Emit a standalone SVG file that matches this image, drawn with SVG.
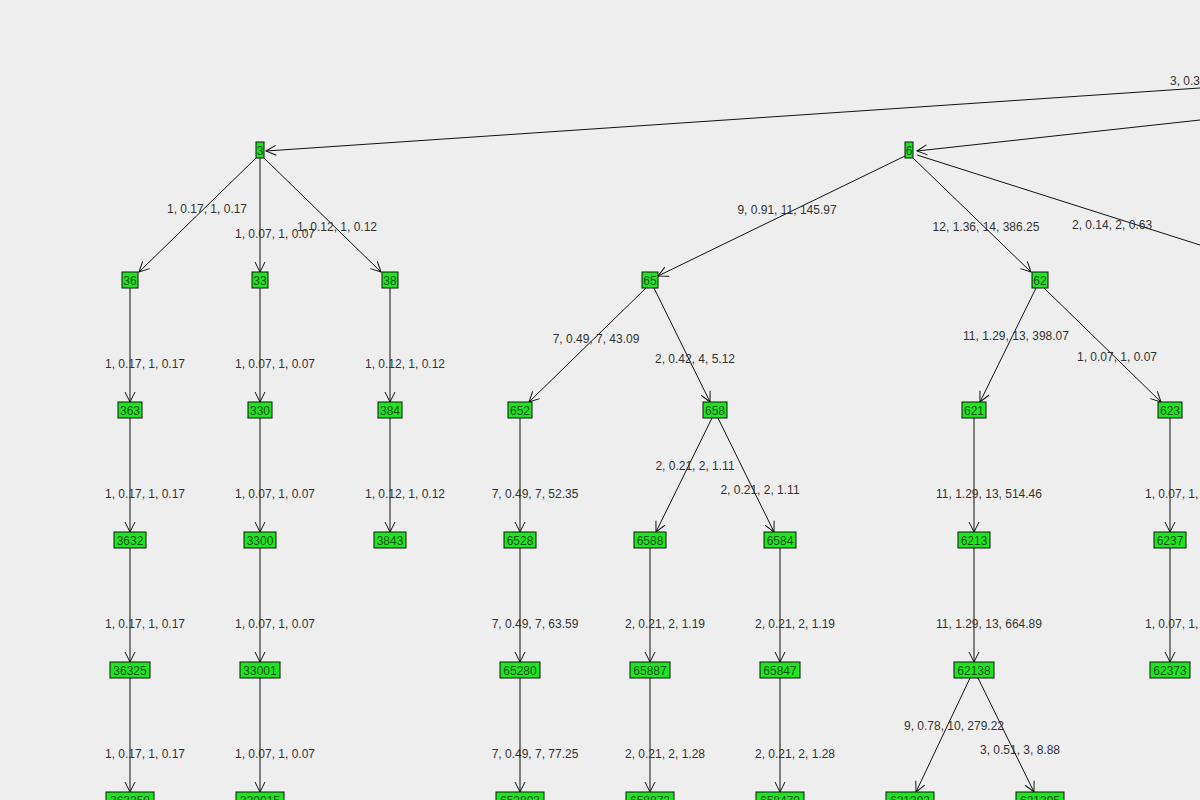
<svg xmlns="http://www.w3.org/2000/svg" width="1200" height="800" viewBox="0 0 1200 800">
<style>
.bg{fill:#eeeeee}
.n rect{fill:#1ee61e;stroke:#111;stroke-width:1}
.n text{font-family:"Liberation Sans",Arial,sans-serif;font-size:12px;fill:#1d4d1d;text-anchor:middle}
.e line{stroke:#111;stroke-width:1}
.a{marker-end:url(#arr)}
.l{font-family:"Liberation Sans",Arial,sans-serif;font-size:12px;fill:#333;text-anchor:middle}
</style>
<defs>
<marker id="arr" markerWidth="14" markerHeight="14" refX="11" refY="6" orient="auto" markerUnits="userSpaceOnUse">
<path d="M1,1 L11,6 L1,11" fill="none" stroke="#111" stroke-width="1"/>
</marker>
</defs>
<rect class="bg" x="0" y="0" width="1200" height="800"/>
<g id="connectors" class="e">
<line class="a" x1="1200" y1="88" x2="266" y2="151"/>
<line class="a" x1="1200" y1="120" x2="917" y2="151"/>
<line x1="917" y1="155" x2="1200" y2="245"/>
<line class="a" x1="256" y1="158" x2="139" y2="272"/>
<line class="a" x1="260" y1="158" x2="260" y2="272"/>
<line class="a" x1="264" y1="158" x2="381" y2="272"/>
<line class="a" x1="130" y1="288" x2="130" y2="402"/>
<line class="a" x1="130" y1="418" x2="130" y2="532"/>
<line class="a" x1="130" y1="548" x2="130" y2="662"/>
<line class="a" x1="130" y1="678" x2="130" y2="792"/>
<line class="a" x1="260" y1="288" x2="260" y2="402"/>
<line class="a" x1="260" y1="418" x2="260" y2="532"/>
<line class="a" x1="260" y1="548" x2="260" y2="662"/>
<line class="a" x1="260" y1="678" x2="260" y2="792"/>
<line class="a" x1="390" y1="288" x2="390" y2="402"/>
<line class="a" x1="390" y1="418" x2="390" y2="532"/>
<line class="a" x1="905" y1="156" x2="658" y2="276"/>
<line class="a" x1="913" y1="158" x2="1031" y2="272"/>
<line class="a" x1="646" y1="288" x2="529" y2="402"/>
<line class="a" x1="654" y1="288" x2="710" y2="402"/>
<line class="a" x1="520" y1="418" x2="520" y2="532"/>
<line class="a" x1="520" y1="548" x2="520" y2="662"/>
<line class="a" x1="520" y1="678" x2="520" y2="792"/>
<line class="a" x1="712" y1="418" x2="656" y2="532"/>
<line class="a" x1="718" y1="418" x2="774" y2="532"/>
<line class="a" x1="650" y1="548" x2="650" y2="662"/>
<line class="a" x1="650" y1="678" x2="650" y2="792"/>
<line class="a" x1="780" y1="548" x2="780" y2="662"/>
<line class="a" x1="780" y1="678" x2="780" y2="792"/>
<line class="a" x1="1036" y1="288" x2="980" y2="402"/>
<line class="a" x1="1044" y1="288" x2="1161" y2="402"/>
<line class="a" x1="974" y1="418" x2="974" y2="532"/>
<line class="a" x1="974" y1="548" x2="974" y2="662"/>
<line class="a" x1="970" y1="678" x2="916" y2="792"/>
<line class="a" x1="978" y1="678" x2="1034" y2="792"/>
<line class="a" x1="1170" y1="418" x2="1170" y2="532"/>
<line class="a" x1="1170" y1="548" x2="1170" y2="662"/>
</g>
<g id="edge-labels">
<text class="l" x="1170" y="85" text-anchor="start" style="text-anchor:start">3, 0.3</text>
<text class="l" x="1072" y="229" style="text-anchor:start">2, 0.14, 2, 0.63</text>
<text class="l" x="207" y="213">1, 0.17, 1, 0.17</text>
<text class="l" x="275" y="238">1, 0.07, 1, 0.07</text>
<text class="l" x="337" y="231">1, 0.12, 1, 0.12</text>
<text class="l" x="145" y="368">1, 0.17, 1, 0.17</text>
<text class="l" x="145" y="498">1, 0.17, 1, 0.17</text>
<text class="l" x="145" y="628">1, 0.17, 1, 0.17</text>
<text class="l" x="145" y="758">1, 0.17, 1, 0.17</text>
<text class="l" x="275" y="368">1, 0.07, 1, 0.07</text>
<text class="l" x="275" y="498">1, 0.07, 1, 0.07</text>
<text class="l" x="275" y="628">1, 0.07, 1, 0.07</text>
<text class="l" x="275" y="758">1, 0.07, 1, 0.07</text>
<text class="l" x="405" y="368">1, 0.12, 1, 0.12</text>
<text class="l" x="405" y="498">1, 0.12, 1, 0.12</text>
<text class="l" x="787" y="214">9, 0.91, 11, 145.97</text>
<text class="l" x="986" y="231">12, 1.36, 14, 386.25</text>
<text class="l" x="596" y="343">7, 0.49, 7, 43.09</text>
<text class="l" x="695" y="363">2, 0.42, 4, 5.12</text>
<text class="l" x="535" y="498">7, 0.49, 7, 52.35</text>
<text class="l" x="535" y="628">7, 0.49, 7, 63.59</text>
<text class="l" x="535" y="758">7, 0.49, 7, 77.25</text>
<text class="l" x="695" y="470">2, 0.21, 2, 1.11</text>
<text class="l" x="760" y="494">2, 0.21, 2, 1.11</text>
<text class="l" x="665" y="628">2, 0.21, 2, 1.19</text>
<text class="l" x="665" y="758">2, 0.21, 2, 1.28</text>
<text class="l" x="795" y="628">2, 0.21, 2, 1.19</text>
<text class="l" x="795" y="758">2, 0.21, 2, 1.28</text>
<text class="l" x="1016" y="340">11, 1.29, 13, 398.07</text>
<text class="l" x="1117" y="361">1, 0.07, 1, 0.07</text>
<text class="l" x="989" y="498">11, 1.29, 13, 514.46</text>
<text class="l" x="989" y="628">11, 1.29, 13, 664.89</text>
<text class="l" x="954" y="730">9, 0.78, 10, 279.22</text>
<text class="l" x="1020" y="754">3, 0.51, 3, 8.88</text>
<text class="l" x="1145" y="498" style="text-anchor:start">1, 0.07, 1, 0.07</text>
<text class="l" x="1145" y="628" style="text-anchor:start">1, 0.07, 1, 0.07</text>
</g>
<g id="n3" class="n"><rect x="256" y="142" width="8" height="16"/><text x="260" y="155">3</text></g>
<g id="n6" class="n"><rect x="905" y="142" width="8" height="16"/><text x="909" y="155">6</text></g>
<g id="n36" class="n"><rect x="122" y="272" width="16" height="16"/><text x="130" y="285">36</text></g>
<g id="n33" class="n"><rect x="252" y="272" width="16" height="16"/><text x="260" y="285">33</text></g>
<g id="n38" class="n"><rect x="382" y="272" width="16" height="16"/><text x="390" y="285">38</text></g>
<g id="n65" class="n"><rect x="642" y="272" width="16" height="16"/><text x="650" y="285">65</text></g>
<g id="n62" class="n"><rect x="1032" y="272" width="16" height="16"/><text x="1040" y="285">62</text></g>
<g id="n363" class="n"><rect x="118" y="402" width="24" height="16"/><text x="130" y="415">363</text></g>
<g id="n330" class="n"><rect x="248" y="402" width="24" height="16"/><text x="260" y="415">330</text></g>
<g id="n384" class="n"><rect x="378" y="402" width="24" height="16"/><text x="390" y="415">384</text></g>
<g id="n652" class="n"><rect x="508" y="402" width="24" height="16"/><text x="520" y="415">652</text></g>
<g id="n658" class="n"><rect x="703" y="402" width="24" height="16"/><text x="715" y="415">658</text></g>
<g id="n621" class="n"><rect x="962" y="402" width="24" height="16"/><text x="974" y="415">621</text></g>
<g id="n623" class="n"><rect x="1158" y="402" width="24" height="16"/><text x="1170" y="415">623</text></g>
<g id="n3632" class="n"><rect x="114" y="532" width="32" height="16"/><text x="130" y="545">3632</text></g>
<g id="n3300" class="n"><rect x="244" y="532" width="32" height="16"/><text x="260" y="545">3300</text></g>
<g id="n3843" class="n"><rect x="374" y="532" width="32" height="16"/><text x="390" y="545">3843</text></g>
<g id="n6528" class="n"><rect x="504" y="532" width="32" height="16"/><text x="520" y="545">6528</text></g>
<g id="n6588" class="n"><rect x="634" y="532" width="32" height="16"/><text x="650" y="545">6588</text></g>
<g id="n6584" class="n"><rect x="764" y="532" width="32" height="16"/><text x="780" y="545">6584</text></g>
<g id="n6213" class="n"><rect x="958" y="532" width="32" height="16"/><text x="974" y="545">6213</text></g>
<g id="n6237" class="n"><rect x="1154" y="532" width="32" height="16"/><text x="1170" y="545">6237</text></g>
<g id="n36325" class="n"><rect x="110" y="662" width="40" height="16"/><text x="130" y="675">36325</text></g>
<g id="n33001" class="n"><rect x="240" y="662" width="40" height="16"/><text x="260" y="675">33001</text></g>
<g id="n65280" class="n"><rect x="500" y="662" width="40" height="16"/><text x="520" y="675">65280</text></g>
<g id="n65887" class="n"><rect x="630" y="662" width="40" height="16"/><text x="650" y="675">65887</text></g>
<g id="n65847" class="n"><rect x="760" y="662" width="40" height="16"/><text x="780" y="675">65847</text></g>
<g id="n62138" class="n"><rect x="954" y="662" width="40" height="16"/><text x="974" y="675">62138</text></g>
<g id="n62373" class="n"><rect x="1150" y="662" width="40" height="16"/><text x="1170" y="675">62373</text></g>
<g id="n363250" class="n"><rect x="106" y="792" width="48" height="16"/><text x="130" y="805">363250</text></g>
<g id="n330015" class="n"><rect x="236" y="792" width="48" height="16"/><text x="260" y="805">330015</text></g>
<g id="n652803" class="n"><rect x="496" y="792" width="48" height="16"/><text x="520" y="805">652803</text></g>
<g id="n658872" class="n"><rect x="626" y="792" width="48" height="16"/><text x="650" y="805">658872</text></g>
<g id="n658470" class="n"><rect x="756" y="792" width="48" height="16"/><text x="780" y="805">658470</text></g>
<g id="n621392" class="n"><rect x="886" y="792" width="48" height="16"/><text x="910" y="805">621392</text></g>
<g id="n621395" class="n"><rect x="1016" y="792" width="48" height="16"/><text x="1040" y="805">621395</text></g>
</svg>
